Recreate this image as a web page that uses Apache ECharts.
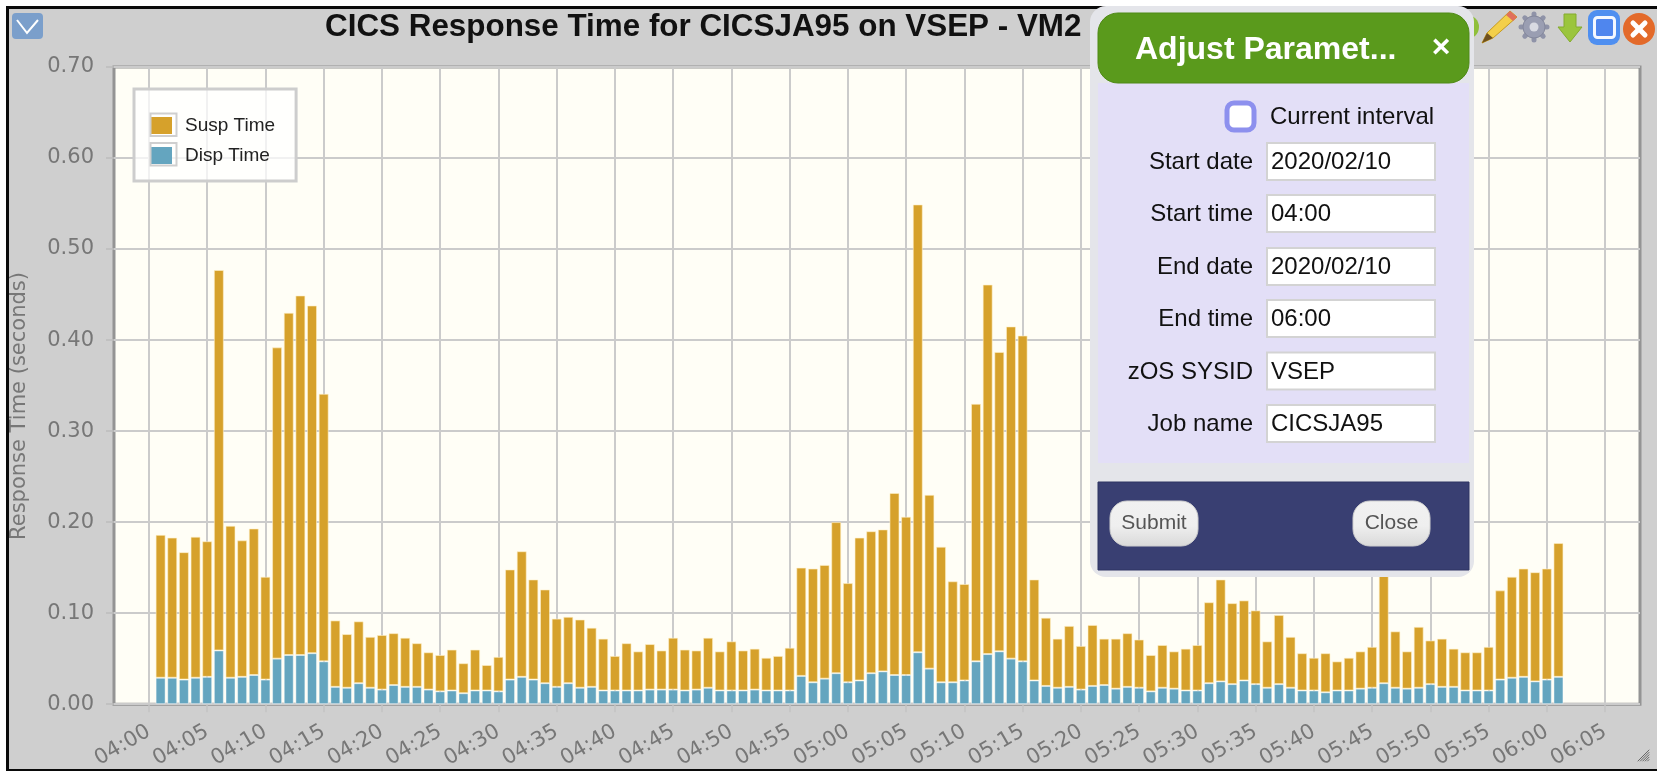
<!DOCTYPE html>
<html><head><meta charset="utf-8">
<style>html,body{margin:0;padding:0;background:#fff}#c{width:1657px;height:771px}</style>
<script src="https://cdn.jsdelivr.net/npm/echarts@6/dist/echarts.min.js"></script>
</head><body><div id="c"></div>
<script>
const chartTitle = 'CICS Response Time for CICSJA95 on VSEP - VM2';
const yAxisName = 'Response Time (seconds)';
const tickLabels = ['04:00','04:05','04:10','04:15','04:20','04:25','04:30','04:35','04:40','04:45','04:50','04:55','05:00','05:05','05:10','05:15','05:20','05:25','05:30','05:35','05:40','05:45','05:50','05:55','06:00','06:05'];
const leadIn = ['03:57','03:58','03:59','04:00'];
const barTimes = ['04:01','04:02','04:03','04:04','04:05','04:06','04:07','04:08','04:09','04:10','04:11','04:12','04:13','04:14','04:15','04:16','04:17','04:18','04:19','04:20','04:21','04:22','04:23','04:24','04:25','04:26','04:27','04:28','04:29','04:30','04:31','04:32','04:33','04:34','04:35','04:36','04:37','04:38','04:39','04:40','04:41','04:42','04:43','04:44','04:45','04:46','04:47','04:48','04:49','04:50','04:51','04:52','04:53','04:54','04:55','04:56','04:57','04:58','04:59','05:00','05:01','05:02','05:03','05:04','05:05','05:06','05:07','05:08','05:09','05:10','05:11','05:12','05:13','05:14','05:15','05:16','05:17','05:18','05:19','05:20','05:21','05:22','05:23','05:24','05:25','05:26','05:27','05:28','05:29','05:30','05:31','05:32','05:33','05:34','05:35','05:36','05:37','05:38','05:39','05:40','05:41','05:42','05:43','05:44','05:45','05:46','05:47','05:48','05:49','05:50','05:51','05:52','05:53','05:54','05:55','05:56','05:57','05:58','05:59','06:00','06:01'];
const leadOut = ['06:02','06:03','06:04','06:05','06:06','06:07','06:08'];
const dispTime = [.029,.029,.027,.029,.030,.059,.029,.030,.032,.027,.050,.054,.054,.056,.047,.019,.018,.023,.018,.016,.021,.019,.019,.016,.014,.015,.012,.015,.015,.014,.027,.030,.027,.023,.019,.023,.018,.019,.015,.015,.015,.015,.016,.016,.016,.015,.016,.018,.015,.015,.015,.016,.015,.015,.015,.031,.024,.028,.034,.024,.026,.034,.036,.032,.032,.057,.039,.024,.024,.026,.047,.055,.058,.050,.047,.026,.020,.018,.019,.016,.020,.021,.017,.019,.018,.014,.018,.017,.015,.015,.023,.025,.022,.026,.022,.018,.022,.018,.015,.015,.013,.015,.015,.017,.018,.023,.018,.017,.018,.022,.019,.019,.015,.015,.015,.027,.029,.030,.025,.027,.030];
const suspTime = [.157,.154,.140,.155,.149,.418,.167,.150,.161,.113,.342,.376,.395,.382,.294,.073,.059,.068,.056,.060,.057,.054,.048,.041,.040,.045,.033,.045,.028,.038,.121,.138,.110,.103,.075,.073,.075,.065,.057,.038,.052,.043,.050,.043,.057,.045,.043,.055,.043,.054,.044,.045,.036,.038,.047,.119,.125,.125,.166,.109,.157,.156,.156,.200,.174,.492,.191,.149,.111,.106,.283,.406,.329,.365,.358,.111,.075,.054,.067,.048,.067,.051,.055,.059,.053,.040,.047,.041,.046,.050,.089,.112,.089,.088,.081,.051,.076,.056,.041,.036,.043,.032,.036,.041,.045,.122,.062,.041,.067,.048,.053,.042,.042,.042,.048,.098,.111,.119,.120,.122,.147];
const legendNames = ['Susp Time','Disp Time'];
const formFields = [['Start date','2020/02/10'],['Start time','04:00'],['End date','2020/02/10'],['End time','06:00'],['zOS SYSID','VSEP'],['Job name','CICSJA95']];

const categories = leadIn.concat(barTimes, leadOut);
const isFiveMinute = function(i,v){return tickLabels.indexOf(v)>=0;};

const SANS = '"Liberation Sans", Arial, sans-serif';
const AXF = '"DejaVu Sans", sans-serif';
const g = [];
const Z = 100;
function rect(x,y,w,h,fill,r,stroke,lw,z){g.push({type:'rect',z:z||Z,silent:true,shape:{x,y,width:w,height:h,r:r||0},style:{fill:fill,stroke:stroke||null,lineWidth:lw||0}});}
function text(x,y,t,font,fill,align,z){g.push({type:'text',z:z||Z+2,silent:true,x,y,style:{text:t,font,fill,textAlign:align||'left',textVerticalAlign:'middle'}});}
function poly(pts,fill,stroke,lw,z){g.push({type:'polygon',z:z||Z,silent:true,shape:{points:pts},style:{fill:fill,stroke:stroke||null,lineWidth:lw||0}});}
function line(a,b,c,d,stroke,lw,z){g.push({type:'line',z:z||Z,silent:true,shape:{x1:a,y1:b,x2:c,y2:d},style:{stroke,lineWidth:lw,lineCap:'round'}});}
function circ(x,y,r,fill,stroke,lw,z){g.push({type:'circle',z:z||Z,silent:true,shape:{cx:x,cy:y,r},style:{fill,stroke:stroke||null,lineWidth:lw||0}});}

// window frame
rect(0,0,1657,771,'#fff',0,null,0,-10);
rect(6,6,1651,765,'#0a0a0a',0,null,0,-9);
rect(9,9,1648,760,'#cfcfcf',0,null,0,-8);

// title and top-left button
text(325,27,chartTitle,'bold 31.4px '+SANS,'#111','left',5);
rect(12,13,31,26,'#7b9fcb',4,null,0,5);
g.push({type:'polyline',z:6,silent:true,shape:{points:[[17,20],[27,33],[38,20]]},style:{fill:null,stroke:'#fff',lineWidth:2}});

// y axis name
g.push({type:'text',z:6,silent:true,x:20,y:406,rotation:Math.PI/2,style:{text:yAxisName,font:'21px '+AXF,fill:'#777',textAlign:'center',textVerticalAlign:'middle'}});

// toolbar icons
circ(1467,27,12,'#8fbf3a',null,0,5);
poly([[1482,43],[1487,33],[1510,11],[1517,17],[1493,38]],'#f3cf4a','#c79a1f',1,6);
poly([[1506,15],[1510,11],[1517,17],[1513,21]],'#e0705c',null,0,7);
poly([[1482,43],[1487,33],[1493,38]],'#6e5020',null,0,7);
for(let a=0;a<8;a++){const t=a*Math.PI/4;line(1534+Math.cos(t)*10,27+Math.sin(t)*10,1534+Math.cos(t)*13,27+Math.sin(t)*13,'#8f93a8',5,6);}
circ(1534,27,11,'#9a9eb2','#84889c',1,7);circ(1534,27,4.5,'#d8dae2',null,0,8);
poly([[1564,14],[1576,14],[1576,27],[1582,27],[1570,42],[1558,27],[1564,27]],'#9bc53d','#84ab2e',1,6);
rect(1588,10,32,35,'#4f8ff0',9,null,0,6);rect(1594.5,17.5,20,20,'#4f86ee',3,'#f4f8ff',3,7);
circ(1639,29,16,'#e36a2a',null,0,6);
line(1633,23,1645,35,'#fff',5,7);line(1645,23,1633,35,'#fff',5,7);

// resize handle
for(let i=0;i<5;i++){line(1638+i*2.4,761,1649,750+i*2.4,'#666',1,6);}

// legend swatch frames
rect(150.5,113.5,26,22.5,null,0,'#cfcfcf',2,30);
rect(150.5,143,26,22.5,null,0,'#cfcfcf',2,30);

// dialog
rect(1090,6,384,571,'#e4e5ea',16);
rect(1098,83,371,380,'#e3dff7',0);
rect(1098,482,371,88,'#393f72',0,'#2f3562',1);
rect(1098,13,371,70,'#5a9a1c',20,'#4f8a17',1,Z+1);
text(1135,50.5,'Adjust Paramet...','bold 32px '+SANS,'#fff');
text(1441,48,'×','bold 32px '+SANS,'#fff','center');
rect(1227,103,27,27,'#fff',7,'#8d90ee',5);
text(1270,117.5,'Current interval','24px '+SANS,'#111');
formFields.forEach(function(f,i){
  const ty=[143,195,248,300,352.5,405][i];
  text(1253,ty+19.5,f[0],'24px '+SANS,'#111','right');
  rect(1267,ty,168,37,'#fff',0,'#d3d3d3',2);
  text(1271,ty+19.5,f[1],'24px '+SANS,'#111');
});
function btn(x,w,t){
  g.push({type:'rect',z:Z+1,silent:true,shape:{x,y:501,width:w,height:45,r:17},style:{stroke:'#cfcfcf',lineWidth:1,fill:{type:'linear',x:0,y:0,x2:0,y2:1,colorStops:[{offset:0,color:'#f1f1f1'},{offset:.55,color:'#efefef'},{offset:1,color:'#d9d9d9'}]}}});
  text(x+w/2,523,t,'21px '+SANS,'#555','center');
}
btn(1110,88,'Submit');btn(1353,77,'Close');

const chart = echarts.init(document.getElementById('c'),null,{renderer:'canvas',width:1657,height:771});
chart.setOption({
  animation:false,
  backgroundColor:'transparent',
  grid:{left:114,top:67,right:17,bottom:66,show:true,backgroundColor:'#fffef6',borderColor:'#949494',borderWidth:3,z:0},
  legend:{show:true,orient:'vertical',left:134,top:89,data:legendNames,
    padding:[27,21,16,17],itemGap:11,itemWidth:21,itemHeight:17,icon:'rect',
    backgroundColor:'rgba(255,255,255,0.72)',borderColor:'#cdcdcd',borderWidth:3,
    itemStyle:{borderWidth:0},
    textStyle:{color:'#222',fontFamily:SANS,fontSize:19,padding:[0,0,0,8]},z:20},
  xAxis:{type:'category',data:categories,boundaryGap:false,
    axisLine:{show:false},
    axisTick:{show:true,interval:isFiveMinute,length:8,lineStyle:{color:'#c4c4c4',width:1.5}},
    axisLabel:{show:true,interval:isFiveMinute,rotate:30,margin:26,color:'#777',fontFamily:AXF,fontSize:21,hideOverlap:false},
    splitLine:{show:true,interval:isFiveMinute,lineStyle:{color:'#cbcbcb',width:2}}},
  yAxis:{type:'value',min:0,max:0.7,interval:0.1,
    axisLine:{show:false},
    axisTick:{show:true,length:8,lineStyle:{color:'#bdbdbd',width:1.5}},
    axisLabel:{margin:20,color:'#777',fontFamily:AXF,fontSize:21,formatter:function(v){return v.toFixed(2);}},
    splitLine:{show:true,lineStyle:{color:'#cbcbcb',width:2}}},
  series:[
    {name:'Disp Time',type:'bar',stack:'t',barWidth:10,z:3,
     data:barTimes.map(function(t,i){return [t,dispTime[i]];}),
     itemStyle:{color:'#64a5bf',borderColor:'rgba(255,255,255,0.45)',borderWidth:1}},
    {name:'Susp Time',type:'bar',stack:'t',barWidth:10,z:3,
     data:barTimes.map(function(t,i){return [t,suspTime[i]];}),
     itemStyle:{color:'#d6a12b',borderColor:'rgba(255,240,200,0.6)',borderWidth:1}}
  ],
  graphic:g
});
</script></body></html>
